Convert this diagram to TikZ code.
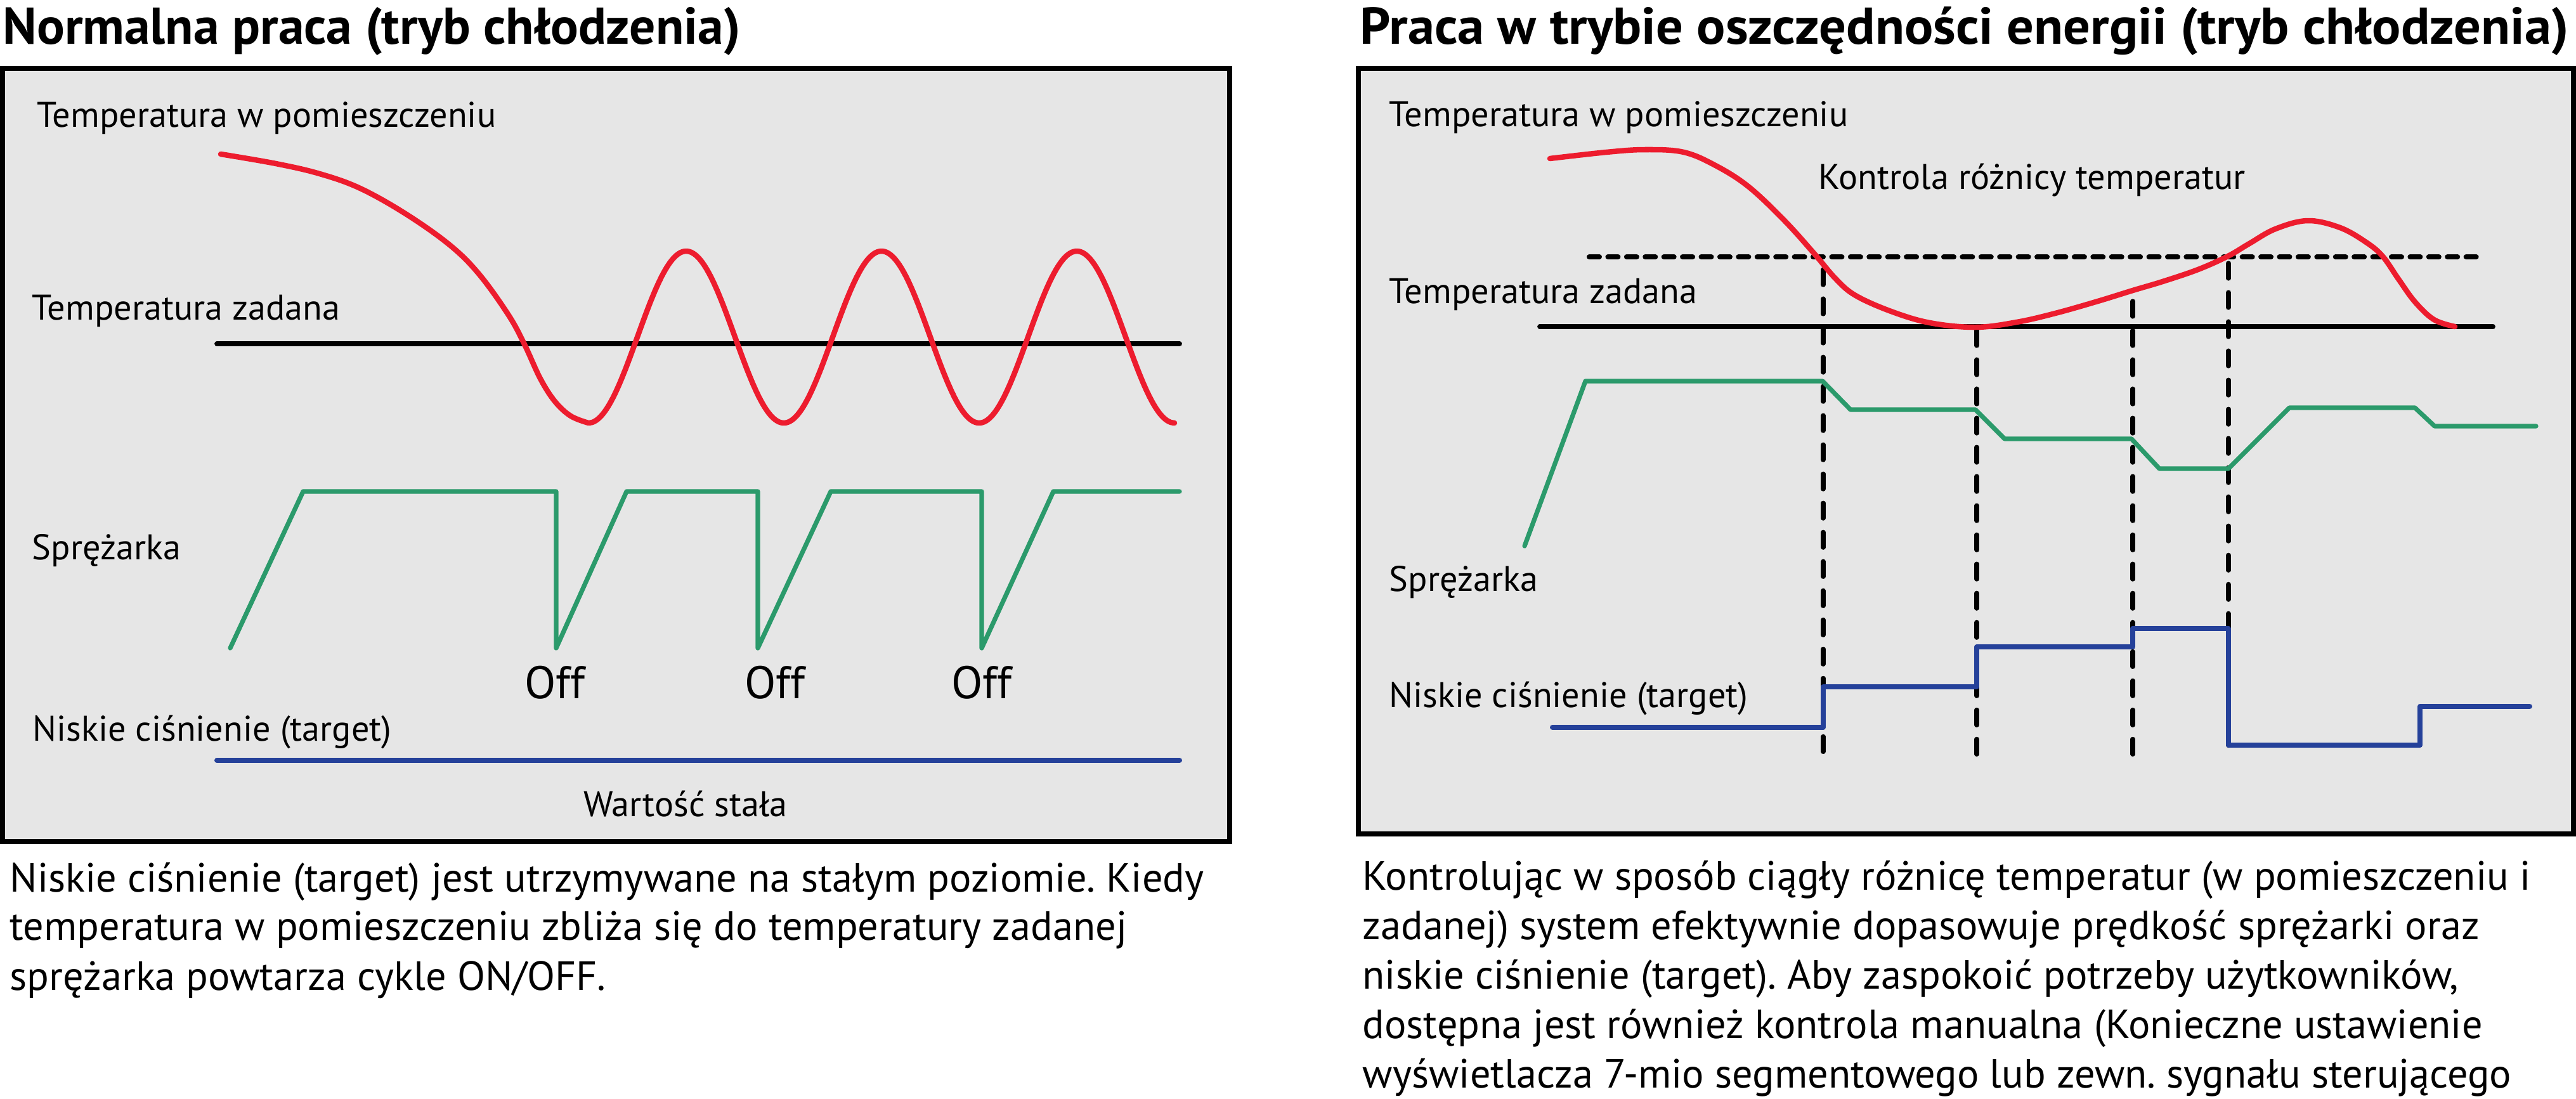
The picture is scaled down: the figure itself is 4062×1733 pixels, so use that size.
\documentclass[tikz,border=0pt]{standalone}
\usepackage{fontspec}
\setmainfont{PT Sans}
\frenchspacing
\definecolor{panelgray}{HTML}{E6E6E6}
\definecolor{tred}{HTML}{ED1C2E}
\definecolor{tgreen}{HTML}{2B9A6B}
\definecolor{tblue}{HTML}{25419A}
\newcommand\ttlfont{\fontsize{23.2pt}{27pt}\selectfont\bfseries}
\newcommand\lblfont{\fontsize{16pt}{19pt}\selectfont}
\newcommand\parafont{\fontsize{18.3pt}{22pt}\selectfont}
\newcommand\offfont{\fontsize{20.5pt}{24pt}\selectfont}
\tikzset{
  ttl/.style={anchor=base west, inner sep=0pt, font=\ttlfont},
  lbl/.style={anchor=base west, inner sep=0pt, font=\lblfont},
  para/.style={anchor=base west, inner sep=0pt, font=\parafont},
  offl/.style={anchor=base, inner sep=0pt, font=\offfont},
  ctr/.style={anchor=base, inner sep=0pt, font=\lblfont},
  panel/.style={draw=black, line width=0.08cm, fill=panelgray},
  redc/.style={draw=tred, line width=0.085cm, line cap=round, line join=round},
  greenc/.style={draw=tgreen, line width=0.072cm, line cap=round, line join=round},
  bluec/.style={draw=tblue, line width=0.08cm, line cap=round, line join=round},
  setp/.style={draw=black, line width=0.078cm, line cap=round},
  hdash/.style={draw=black, line width=0.08cm, line cap=round, dash pattern=on 0.16cm off 0.134cm},
  vdash/.style={draw=black, line width=0.072cm, line cap=round, dash pattern=on 0.24cm off 0.22cm},
}
\begin{document}
\begin{tikzpicture}[x=0.01cm, y=-0.01cm]
\useasboundingbox (0,0) rectangle (4062,1733);
\fill[white] (0,0) rectangle (4062,1733);

% ---------- titles ----------
\node[ttl] (t1) at (4,69) {Normalna praca (tryb chłodzenia)};
\node[ttl] (t2) at (2144,69) {\scalebox{1.035}[1]{Praca w trybie oszczędności energii (tryb chłodzenia)}};

% ---------- panels ----------
\path[panel] (4,108) rectangle (1939,1327);
\path[panel] (2142,108) rectangle (4058,1315);

% ---------- left panel ----------
\node[lbl] (l1) at (58,200) {Temperatura w pomieszczeniu};
\node[lbl] (l2) at (50,504) {Temperatura zadana};
\node[lbl] (l3) at (50,882) {Sprężarka};
\node[lbl] (l4) at (51,1168) {Niskie ciśnienie (target)};
\node[ctr] (l5) at (1081,1287) {Wartość stała};
\node[offl] (off1) at (875,1101) {Off};
\node[offl] (off2) at (1222,1101) {Off};
\node[offl] (off3) at (1548,1101) {Off};

\draw[setp] (342,542) -- (1860,542);
\draw[redc] plot[smooth, tension=0.6] coordinates {(348,243) (435,258) (504,274) (568,297) (641,338) (710,387) (756,433) (802,497) (827,543) (852,597) (875,633) (900,656) (928,667)}
  -- plot[domain=928:1852, samples=161, smooth] (\x, {531.5-135.5*cos(1.16883*(\x-1082))});
\draw[greenc] (363,1022) -- (478,775) -- (877,775) -- (877,1022) -- (988,775) -- (1195,775) -- (1195,1022) -- (1310,775) -- (1548,775) -- (1548,1022) -- (1661,775) -- (1860,775);
\draw[bluec] (342,1199) -- (1860,1199);

% ---------- right panel ----------
\node[lbl] (r1) at (2190,199) {Temperatura w pomieszczeniu};
\node[lbl] (r2) at (2867,298) {Kontrola różnicy temperatur};
\node[lbl] (r3) at (2190,478) {Temperatura zadana};
\node[lbl] (r4) at (2190,932) {Sprężarka};
\node[lbl] (r5) at (2190,1115) {Niskie ciśnienie (target)};

\draw[hdash] (2506,405) -- (3906,405);
\draw[setp] (2428,515) -- (3931,515);
\draw[vdash] (2875,425) -- (2875,1191);
\draw[vdash] (3117,521) -- (3117,1191);
\draw[vdash] (3363,475) -- (3363,1191);
\draw[vdash] (3514,415) -- (3514,1191);
\draw[redc] plot[smooth, tension=0.6] coordinates {(2444,250) (2533,240) (2594,236) (2655,240) (2707,262) (2758,295) (2814,348) (2860,399) (2895,440) (2926,466) (2982,491) (3043,509) (3115,516) (3180,508) (3241,494) (3308,475) (3363,458) (3410,444) (3466,425) (3513,404) (3547,384) (3588,361) (3639,348) (3690,359) (3731,382) (3757,404) (3782,440) (3808,476) (3838,504) (3871,515)};
\draw[greenc] (2404,861) -- (2500,601) -- (2874,601) -- (2918,646) -- (3115,646) -- (3161,692) -- (3361,692) -- (3405,739) -- (3514,739) -- (3610,643) -- (3808,643) -- (3839,672) -- (3999,672);
\draw[bluec] (2448,1147) -- (2875,1147) -- (2875,1083) -- (3117,1083) -- (3117,1020) -- (3363,1020) -- (3363,991) -- (3514,991) -- (3514,1175) -- (3816,1175) -- (3816,1114) -- (3989,1114);

% ---------- captions ----------
\node[para] (p1) at (15,1406) {Niskie ciśnienie (target) jest utrzymywane na stałym poziomie. Kiedy};
\node[para] (p2) at (15,1482) {temperatura w pomieszczeniu zbliża się do temperatury zadanej};
\node[para] (p3) at (15,1561) {sprężarka powtarza cykle ON/OFF.};

\node[para] (q1) at (2148,1403) {Kontrolując w sposób ciągły różnicę temperatur (w pomieszczeniu i};
\node[para] (q2) at (2148,1481) {zadanej) system efektywnie dopasowuje prędkość sprężarki oraz};
\node[para] (q3) at (2148,1559) {niskie ciśnienie (target). Aby zaspokoić potrzeby użytkowników,};
\node[para] (q4) at (2148,1637) {dostępna jest również kontrola manualna (Konieczne ustawienie};
\node[para] (q5) at (2148,1715) {wyświetlacza 7-mio segmentowego lub zewn. sygnału sterującego};
\end{tikzpicture}
\end{document}
